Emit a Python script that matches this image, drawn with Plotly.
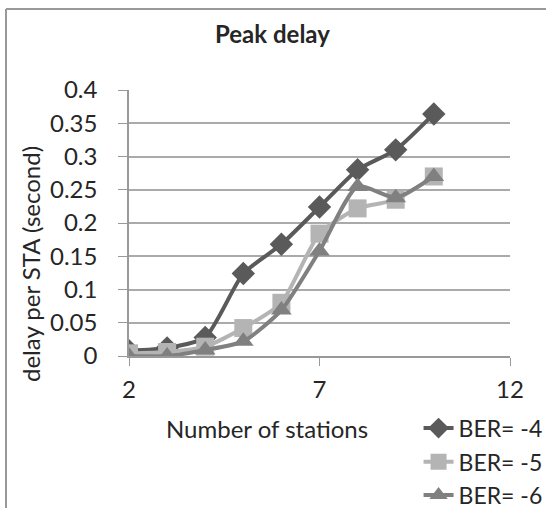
import plotly.graph_objects as go

stations = [2, 3, 4, 5, 6, 7, 8, 9, 10]
ber4 = [0.008, 0.012, 0.028, 0.124, 0.168, 0.224, 0.280, 0.310, 0.364]
ber5 = [0.004, 0.006, 0.014, 0.042, 0.080, 0.184, 0.222, 0.235, 0.270]
ber6 = [0.000, 0.000, 0.009, 0.022, 0.069, 0.158, 0.255, 0.238, 0.270]
names = ["BER= -4", "BER= -5", "BER= -6"]
colors = ["#5a5a5a", "#b4b4b4", "#808080"]
symbols = ["diamond", "square", "triangle-up"]
x_title = "Number of stations"
y_title = "delay per STA (second)"
chart_title = "Peak delay"

FONT = "Lato, Open Sans, sans-serif"
TXT = "#262626"
FS = 24

fig = go.Figure()
for i, (vals, nm, c, s) in enumerate(zip([ber4, ber5, ber6], names, colors, symbols)):
    fig.add_trace(go.Scatter(
        x=stations, y=vals, name=nm, mode="lines+markers",
        line=dict(color=c, width=4, shape="spline", smoothing=0.6),
        marker=dict(symbol=s, size=18, color=c),
        legend="legend" if i == 0 else f"legend{i+1}",
        showlegend=True,
    ))

leg_common = dict(font=dict(family=FONT, size=23, color=TXT), bgcolor="rgba(0,0,0,0)",
                  xanchor="left", yanchor="middle", itemwidth=30, borderwidth=0)
fig.update_layout(
    width=546, height=508,
    margin=dict(l=129, r=36, t=90, b=152, autoexpand=False),
    paper_bgcolor="white", plot_bgcolor="white",
    showlegend=True,
    font=dict(family=FONT, size=FS, color=TXT),
    legend=dict(x=0.76, y=-0.271, **leg_common),
    legend2=dict(x=0.76, y=-0.398, **leg_common),
    legend3=dict(x=0.76, y=-0.523, **leg_common),
    xaxis=dict(range=[2, 12], tickvals=[2, 7, 12], showgrid=False, showline=True,
               linecolor="#999", linewidth=1.5, ticks="outside", ticklen=8, tickcolor="#999",
               zeroline=False, ticklabelstandoff=3, automargin=False,
               tickfont=dict(family=FONT, size=FS, color=TXT)),
    yaxis=dict(range=[0, 0.4], dtick=0.05, showgrid=True, gridcolor="#aaa", gridwidth=1.5,
               showline=True, linecolor="#999", linewidth=1.5, ticks="outside", ticklen=9,
               tickcolor="#999", zeroline=False, ticklabelstandoff=16, automargin=False,
               tickfont=dict(family=FONT, size=FS, color=TXT)),
    annotations=[
        dict(text="<b>" + chart_title + "</b>", xref="paper", yref="paper",
             x=(272 - 129) / 381, y=(356 - 33) / 266, xanchor="center", yanchor="middle",
             showarrow=False, font=dict(family=FONT, size=FS, color=TXT)),
        dict(text=x_title, xref="paper", yref="paper",
             x=(267 - 129) / 381, y=(356 - 428) / 266, xanchor="center", yanchor="middle",
             showarrow=False, font=dict(family=FONT, size=FS, color=TXT)),
        dict(text=y_title, xref="paper", yref="paper", textangle=-90,
             x=(30 - 129) / 381, y=(356 - 264) / 266, xanchor="center", yanchor="middle",
             showarrow=False, font=dict(family=FONT, size=FS, color=TXT)),
    ],
    shapes=[
        dict(type="line", xref="paper", yref="paper", x0=(6 - 129) / 381, x1=1.2,
             y0=(356 - 9) / 266, y1=(356 - 9) / 266, line=dict(color="#999", width=2)),
        dict(type="line", xref="paper", yref="paper", x0=(6 - 129) / 381, x1=(6 - 129) / 381,
             y0=(356 - 9) / 266, y1=-0.7, line=dict(color="#999", width=2)),
    ],
)
fig.write_html("out.html", config={"displayModeBar": False},
               post_script="document.body.style.margin='0';document.body.style.overflow='hidden';")
